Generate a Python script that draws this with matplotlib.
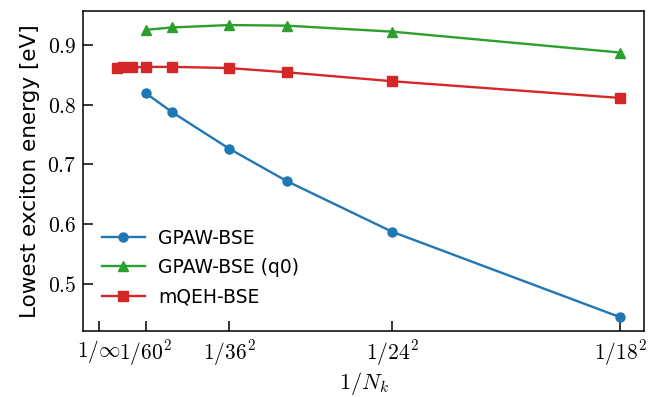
import matplotlib
matplotlib.use("Agg")
import matplotlib.pyplot as plt
import numpy as np
from matplotlib.ticker import FuncFormatter

plt.rcParams["mathtext.fontset"] = "cm"
plt.rcParams["font.size"] = 11.5

# k-point grid sizes (N_k = n^2) and lowest exciton energies in eV
n_gpaw = np.array([60, 48, 36, 30, 24, 18])
e_gpaw = [0.819, 0.787, 0.726, 0.672, 0.587, 0.444]

n_gpaw_q0 = np.array([60, 48, 36, 30, 24, 18])
e_gpaw_q0 = [0.925, 0.929, 0.933, 0.932, 0.922, 0.887]

n_mqeh = np.array([96, 84, 72, 60, 48, 36, 30, 24, 18])
e_mqeh = [0.861, 0.862, 0.862, 0.863, 0.863, 0.861, 0.854, 0.839, 0.811]

tick_n = [None, 60, 36, 24, 18]
tick_labels = [r"$1/\infty$", r"$1/60^2$", r"$1/36^2$", r"$1/24^2$", r"$1/18^2$"]

fig = plt.figure(figsize=(6.48, 3.97), dpi=100)
ax = fig.add_axes([0.128, 0.165, 0.866, 0.808])

ax.plot(1 / n_gpaw**2, e_gpaw, "o-", color="#1f77b4", lw=1.7, ms=6.5, label="GPAW-BSE")
ax.plot(1 / n_gpaw_q0**2, e_gpaw_q0, "^-", color="#2ca02c", lw=1.7, ms=7.5, label="GPAW-BSE (q0)")
ax.plot(1 / n_mqeh**2, e_mqeh, "s-", color="#d62728", lw=1.7, ms=6.5, label="mQEH-BSE")

ticks = [0 if n is None else 1 / n**2 for n in tick_n]
ax.set_xticks(ticks)
ax.set_xticklabels(tick_labels, fontsize=15.5)
ax.set_yticks([0.5, 0.6, 0.7, 0.8, 0.9])
ax.yaxis.set_major_formatter(FuncFormatter(lambda v, p: f"${v:.1f}$"))
ax.tick_params(direction="in", length=7, width=1.1, labelsize=15.5, pad=5)

ax.set_xlim(-0.0000948, 0.003229)
ax.set_ylim(0.420, 0.957)

for s in ax.spines.values():
    s.set_linewidth(1.1)

ax.set_xlabel(r"$1/N_k$", fontsize=16, labelpad=1)
ax.set_ylabel("Lowest exciton energy [eV]", fontsize=15.5, labelpad=5)

ax.legend(loc="lower left", bbox_to_anchor=(0.0, 0.02), frameon=False,
          fontsize=13.5, handlelength=2.3, handletextpad=0.7,
          labelspacing=0.55, borderaxespad=0.6)

fig.savefig("out.png", dpi=100)
